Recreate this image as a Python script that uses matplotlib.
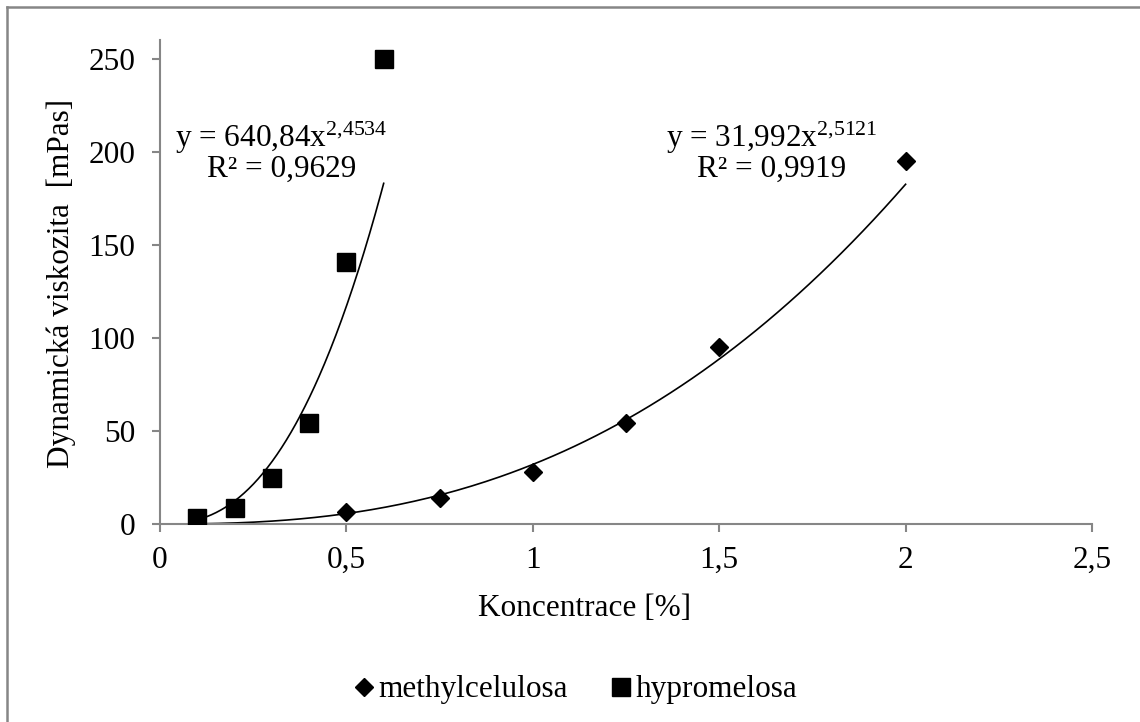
import numpy as np
import matplotlib.pyplot as plt
from matplotlib.lines import Line2D

plt.rcParams['font.family'] = ['Liberation Serif', 'DejaVu Serif']
plt.rcParams['mathtext.fontset'] = 'custom'
plt.rcParams['mathtext.rm'] = 'Liberation Serif'
plt.rcParams['mathtext.default'] = 'regular'

# measured viscosities
mc_conc = [0.1, 0.5, 0.75, 1.0, 1.25, 1.5, 2.0]
mc_visc = [1.0, 6.4, 14, 28, 54, 95, 195]
hpmc_conc = [0.1, 0.2, 0.3, 0.4, 0.5, 0.6]
hpmc_visc = [3, 8.6, 24.7, 54, 141, 250]

# power-law trend lines y = a * x^b
mc_fit = (31.992, 2.5121, 0.9919)
hpmc_fit = (640.84, 2.4534, 0.9629)

xticks = [0, 0.5, 1, 1.5, 2, 2.5]
xticklabels = ['0', '0,5', '1', '1,5', '2', '2,5']
yticks = [0, 50, 100, 150, 200, 250]

fs = 22.5
gray = '#868686'

fig = plt.figure(figsize=(11.4, 7.22), dpi=100)
ax = fig.add_axes([160/1140, 1 - 524/722, (1092-160)/1140, (524-40)/722])

ax.plot(mc_conc, mc_visc, linestyle='none', marker='D', ms=8.7, color='black', zorder=3)
ax.plot(hpmc_conc, hpmc_visc, linestyle='none', marker='s', ms=13.5, color='black', zorder=4)

for (a, b, r2), xs in [(mc_fit, mc_conc), (hpmc_fit, hpmc_conc)]:
    xx = np.linspace(min(xs), max(xs), 200)
    ax.plot(xx, a * xx ** b, color='black', lw=1.2, zorder=2)

def fmt(v):
    return f'{v}'.replace('.', ',')

def eq_label(a, b, r2):
    return f'y = {fmt(a)}x$^{{{fmt(b).replace(",", "{,}")}}}$\nR² = {fmt(r2)}'

ax.text(0.325, 200, eq_label(*hpmc_fit), ha='center', va='center', fontsize=fs, linespacing=0.95)
ax.text(1.64, 200, eq_label(*mc_fit), ha='center', va='center', fontsize=fs, linespacing=0.95)

ax.set_xlim(0, 2.5)
ax.set_ylim(0, 260)
ax.set_xticks(xticks)
ax.set_xticklabels(xticklabels)
ax.set_yticks(yticks)
for s in ['top', 'right']:
    ax.spines[s].set_visible(False)
for s in ['left', 'bottom']:
    ax.spines[s].set_color(gray)
    ax.spines[s].set_linewidth(1.5)
ax.tick_params(axis='both', direction='out', length=6, width=1.5, color=gray,
               labelsize=fs, pad=10)
ax.tick_params(axis='y', pad=12)

fig.text(61/1140, 1 - 283/722, 'Dynamická viskozita  [mPas]', rotation=90,
         ha='center', va='center', fontsize=fs)
fig.text(585/1140, 1 - 608/722, 'Koncentrace [%]', ha='center', va='center', fontsize=fs)

handles = [Line2D([], [], linestyle='none', marker='D', ms=8.7, color='black'),
           Line2D([], [], linestyle='none', marker='s', ms=13.5, color='black')]
fig.legend(handles, ['methylcelulosa', 'hypromelosa'], loc='center',
           bbox_to_anchor=(576/1140, 1 - 690/722), ncol=2, frameon=False,
           fontsize=fs, handlelength=0.6, handletextpad=0.15, columnspacing=1.4)

# chart frame (only top and left edges fall inside the image)
fig.add_artist(Line2D([6.5/1140, 1.0], [1 - 7/722, 1 - 7/722], color=gray, lw=1.8,
                      transform=fig.transFigure))
fig.add_artist(Line2D([6.5/1140, 6.5/1140], [0, 1 - 7/722], color=gray, lw=1.8,
                      transform=fig.transFigure))

fig.savefig('out.png', dpi=100)
